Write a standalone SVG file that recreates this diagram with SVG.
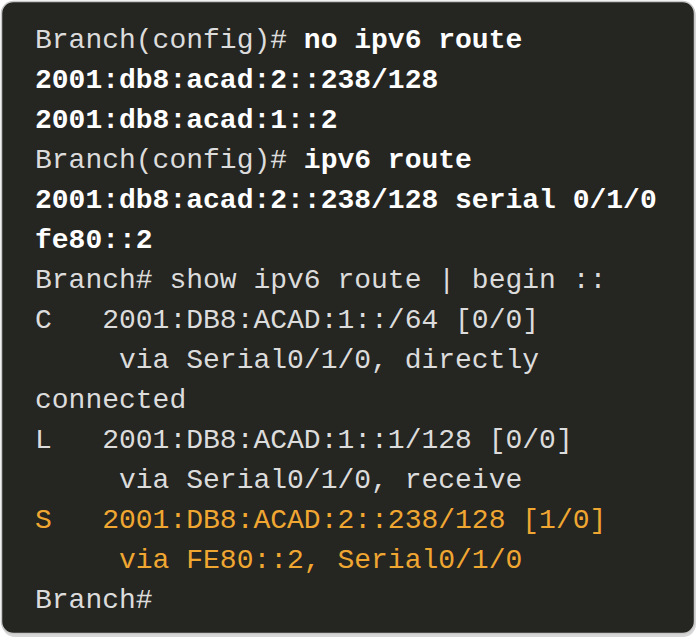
<svg xmlns="http://www.w3.org/2000/svg" width="698" height="642" viewBox="0 0 698 642">
<style>
text{font-family:"Liberation Mono","Courier New",monospace;font-size:28px;white-space:pre;}
.n{fill:#dcdcdc;}
.b{fill:#ffffff;font-weight:bold;}
.o{fill:#f0a732;}
</style>
<rect x="0" y="0" width="698" height="642" fill="#ffffff"/>
<rect x="2" y="3" width="694" height="634" rx="13" fill="#d8d8d8"/>
<rect x="1.5" y="1.5" width="693" height="632" rx="12" fill="#252521" stroke="#c8c8c8" stroke-width="1.5"/>
<g id="terminal">
<text x="35" y="47.5"><tspan class="n">Branch(config)# </tspan><tspan class="b">no ipv6 route</tspan></text>
<text x="35" y="87.5" class="b">2001:db8:acad:2::238/128</text>
<text x="35" y="127.5" class="b">2001:db8:acad:1::2</text>
<text x="35" y="167.5"><tspan class="n">Branch(config)# </tspan><tspan class="b">ipv6 route</tspan></text>
<text x="35" y="207.5" class="b">2001:db8:acad:2::238/128 serial 0/1/0</text>
<text x="35" y="247.5" class="b">fe80::2</text>
<text x="35" y="287.5" class="n">Branch# show ipv6 route | begin ::</text>
<text x="35" y="327.5" class="n">C   2001:DB8:ACAD:1::/64 [0/0]</text>
<text x="35" y="367.5" class="n">     via Serial0/1/0, directly</text>
<text x="35" y="407.5" class="n">connected</text>
<text x="35" y="447.5" class="n">L   2001:DB8:ACAD:1::1/128 [0/0]</text>
<text x="35" y="487.5" class="n">     via Serial0/1/0, receive</text>
<text x="35" y="527.5" class="o">S   2001:DB8:ACAD:2::238/128 [1/0]</text>
<text x="35" y="567.5" class="o">     via FE80::2, Serial0/1/0</text>
<text x="35" y="607.5" class="n">Branch#</text>
</g>
</svg>
